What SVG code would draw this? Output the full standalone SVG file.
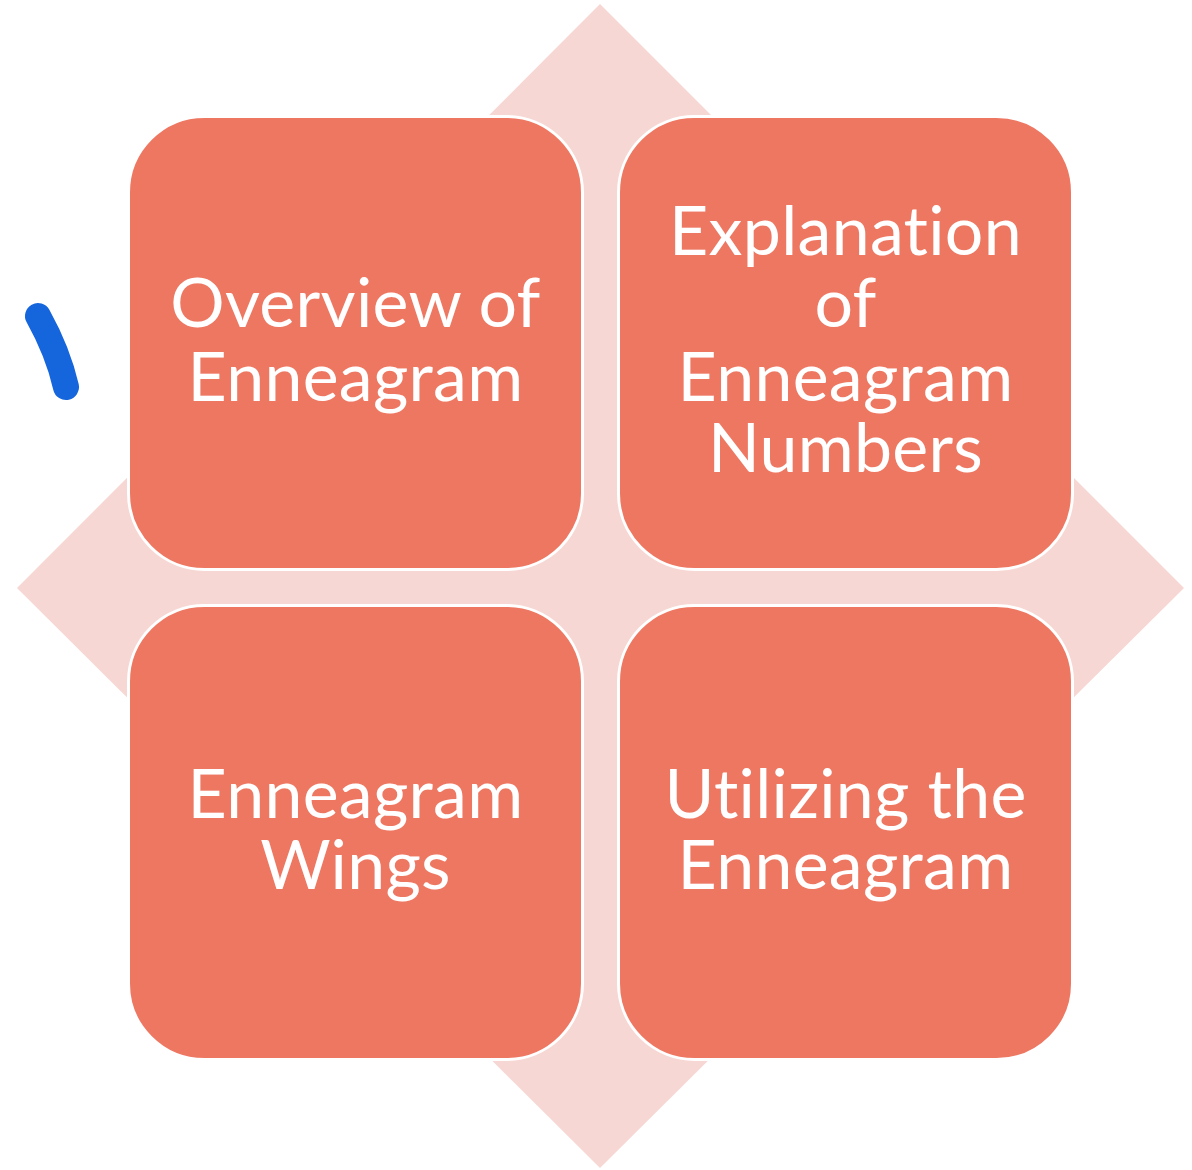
<svg xmlns="http://www.w3.org/2000/svg" width="1192" height="1170" viewBox="0 0 1192 1170">
  <style>
    .node rect { fill: #EE7762; stroke: #FFFFFF; stroke-width: 3; }
    .node text { fill: #FFFFFF; font-family: Lato, "Noto Sans", sans-serif; font-size: 68px; text-anchor: middle; letter-spacing: 0.3px; }
  </style>
  <rect width="1192" height="1170" fill="#FFFFFF"/>
  <!-- background diamond -->
  <polygon points="600,4 1184,588 600,1168 17,588" fill="#F7D7D3"/>
  <!-- pen stroke -->
  <path d="M38,316 Q58,352 66,387" fill="none" stroke="#1565DC" stroke-width="26" stroke-linecap="round"/>
  <g id="connectors"></g>
  <g id="node-overview" class="node">
    <rect x="128.5" y="116.5" width="454" height="453" rx="76" ry="76"/>
    <text x="355.5" y="327">Overview of</text>
    <text x="355.5" y="401">Enneagram</text>
  </g>
  <g id="node-numbers" class="node">
    <rect x="618.5" y="116.5" width="454" height="453" rx="76" ry="76"/>
    <text x="845.5" y="255">Explanation</text>
    <text x="845.5" y="327">of</text>
    <text x="845.5" y="401">Enneagram</text>
    <text x="845.5" y="472">Numbers</text>
  </g>
  <g id="node-wings" class="node">
    <rect x="128.5" y="605.5" width="454" height="454" rx="76" ry="76"/>
    <text x="355.5" y="818">Enneagram</text>
    <text x="355.5" y="889">Wings</text>
  </g>
  <g id="node-utilizing" class="node">
    <rect x="618.5" y="605.5" width="454" height="454" rx="76" ry="76"/>
    <text x="845.5" y="818">Utilizing the</text>
    <text x="845.5" y="889">Enneagram</text>
  </g>
</svg>
